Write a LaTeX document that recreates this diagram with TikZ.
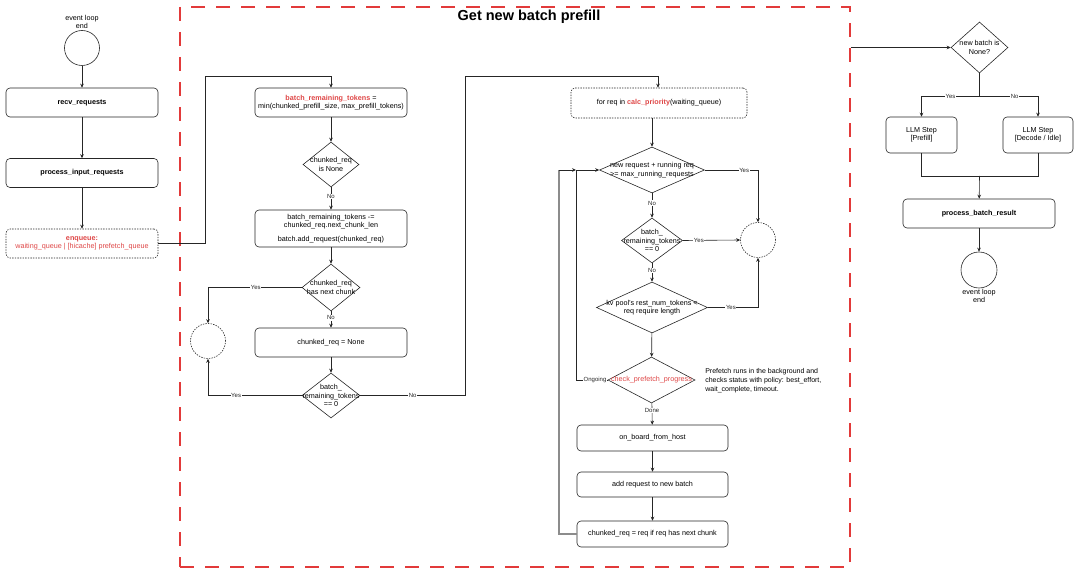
\documentclass[tikz,border=0pt]{standalone}
\usepackage{fontspec}
\setmainfont{Liberation Sans}
\usepackage{tikz}
\usetikzlibrary{arrows.meta, positioning, shapes.geometric}
\definecolor{hlred}{RGB}{222,70,70}
\definecolor{framered}{RGB}{226,58,58}
\newcommand{\fs}{\fontsize{7.2}{8.3}\selectfont}
\newcommand{\fss}{\fontsize{6}{7}\selectfont}
\tikzset{
	procbox/.style={draw, black!85, text=black, rounded corners=4pt, minimum height=29pt, minimum width=152pt, font=\fs, align=center, inner sep=1pt},
	dotbox/.style={procbox, dash pattern=on 1.4pt off 1.2pt},
	decide/.style 2 args={draw, black!85, diamond, inner sep=0pt, minimum width=#1, minimum height=#2},
	dtext/.style={font=\fs, align=center, inner sep=0pt},
	dotcirc/.style={draw, black!85, circle, minimum size=35pt, inner sep=0pt, dash pattern=on 1.4pt off 1.2pt},
	endcirc/.style={draw, black!85, circle, minimum size=35pt, inner sep=0pt},
	flowarr/.style={-{Stealth[length=4pt, width=3.6pt]}, black!85, line width=0.6pt},
	branch/.style={font=\fss, fill=white, inner sep=0.6pt, text=black!85},
}

\begin{document}
\begin{tikzpicture}[x=1pt, y=-1pt, line width=0.6pt]
	\useasboundingbox (0,0) rectangle (1080,575);
	% prefill frame
	\node[draw=framered, line width=1.3pt, dash pattern=on 14pt off 11pt, minimum width=670pt, minimum height=560pt, inner sep=0pt] (prefill) at (515,287) {};
	\node[font=\fontsize{14.5}{16}\selectfont\bfseries] (prefilltitle) at (529,17) {Get new batch prefill};

	% event loop entry
	\node[endcirc] (evstart) at (82,48) {};
	\node[dtext] (evstartlbl) at (82,22) {event loop\\end};
	\node[procbox] (recv) at (82,102.5) {\textbf{recv\_requests}};
	\node[procbox] (procin) at (82,173) {\textbf{process\_input\_requests}};
	\node[dotbox, text=hlred] (enq) at (82,243.5) {\textbf{enqueue:}\\waiting\_queue | [hicache] prefetch\_queue};
	\draw[flowarr] (evstart) -- (recv);
	\draw[flowarr] (recv) -- (procin);
	\draw[flowarr] (procin) -- (enq);

	% chunked request
	\node[procbox] (budget) at (331,102.5) {\textcolor{hlred}{\textbf{batch\_remaining\_tokens}} =\\min(chunked\_prefill\_size, max\_prefill\_tokens)};
	\node[decide={56pt}{45pt}] (isnone) at (331,164.5) {};
	\node[dtext] (isnonetxt) at (isnone) {chunked\_req\\is None};
	\node[procbox, minimum height=37pt] (consume) at (331,228.5) {batch\_remaining\_tokens -=\\chunked\_req.next\_chunk\_len\\[6pt]batch.add\_request(chunked\_req)};
	\node[decide={58pt}{47pt}] (hasnext) at (331,287.5) {};
	\node[dtext] (hasnexttxt) at (hasnext) {chunked\_req\\has next chunk};
	\node[dotcirc] (holdL) at (208,341) {};
	\node[procbox] (clearreq) at (331,342.5) {chunked\_req = None};
	\node[decide={58pt}{45pt}] (budgetzero) at (331,395.5) {};
	\node[dtext] (budgetzerotxt) at (budgetzero) {batch\_\\remaining\_tokens\\== 0};
	\coordinate (jumpA) at (205,76);
	\coordinate (jumpB) at (465,76);
	\draw[flowarr] (enq.east) -| (jumpA) -| (budget.north);
	\draw[flowarr] (budget) -- (isnone);
	\draw[flowarr] (isnone) -- node[branch, pos=0.4] {No} (consume);
	\draw[flowarr] (consume) -- (hasnext);
	\draw[flowarr] (hasnext.west) -| node[branch, pos=0.245] {Yes} (holdL.north);
	\draw[flowarr] (hasnext) -- node[branch, pos=0.4] {No} (clearreq);
	\draw[flowarr] (clearreq) -- (budgetzero);
	\draw[flowarr] (budgetzero.west) -| node[branch, pos=0.35] {Yes} (holdL.south);

	% waiting queue
	\node[dotbox, minimum width=176pt, minimum height=30pt] (forreq) at (659,103) {for req in \textcolor{hlred}{\textbf{calc\_priority}}(waiting\_queue)};
	\node[decide={105pt}{46pt}] (maxrun) at (652,170) {};
	\node[dtext] (maxruntxt) at (maxrun) {new request + running req\\>= max\_running\_requests};
	\node[decide={61pt}{45pt}] (budgetzero2) at (652,240.5) {};
	\node[dtext] (budgetzero2txt) at (budgetzero2) {batch\_\\remaining\_tokens\\== 0};
	\node[dotcirc] (holdR) at (758,240) {};
	\node[decide={111pt}{51pt}] (kvpool) at (652,307.5) {};
	\node[dtext] (kvpooltxt) at (kvpool) {kv pool's rest\_num\_tokens <\\req require length};
	\node[decide={87pt}{46pt}] (prefetch) at (651.5,380) {};
	\node[dtext, text=hlred] (prefetchtxt) at (prefetch) {check\_prefetch\_progress};
	\node[dtext, anchor=west, align=left, font=\fontsize{7}{9}\selectfont] (prefetchnote) at (705,381) {Prefetch runs in the background and\\checks status with policy: best\_effort,\\wait\_complete, timeout.};
	\node[procbox, minimum width=151pt, minimum height=26pt] (onboard) at (652.5,438) {on\_board\_from\_host};
	\node[procbox, minimum width=151pt, minimum height=25pt] (addreq) at (652.5,484.5) {add request to new batch};
	\node[procbox, minimum width=151pt, minimum height=26pt] (setchunk) at (652.5,534) {chunked\_req = req if req has next chunk};
	\coordinate (loopA) at (576,170);
	\coordinate (loopB) at (559,170);
	\draw[flowarr] (budgetzero.east) -| node[branch, pos=0.25] {No} (jumpB) -| ([xshift=-1pt]forreq.north);
	\draw[flowarr] (forreq.south -| maxrun.north) -- (maxrun.north);
	\draw[flowarr] (maxrun) -- node[branch, pos=0.4] {No} (budgetzero2);
	\draw[flowarr] (maxrun.east) -| node[branch, pos=0.37] {Yes} (holdR.north);
	\draw[flowarr] (budgetzero2.east) -- node[branch, pos=0.28] {Yes} (holdR.west);
	\draw[flowarr] (budgetzero2) -- node[branch, pos=0.4] {No} (kvpool);
	\draw[flowarr] (kvpool.east) -| node[branch, pos=0.23] {Yes} (holdR.south);
	\draw[flowarr] (kvpool) -- (prefetch);
	\draw[flowarr] (prefetch.west) -| node[branch, pos=0.2] {Ongoing} (loopA) -- (maxrun.west);
	\draw[flowarr] (prefetch) -- node[branch, pos=0.35] {Done} (onboard);
	\draw[flowarr] (onboard) -- (addreq);
	\draw[flowarr] (addreq) -- (setchunk);
	\draw[black!45, line width=1.1pt] (setchunk.west) -| (loopB);
	\draw[flowarr] (loopB) -- (loopA);

	% llm step
	\node[decide={57pt}{51pt}] (nbnone) at (979.5,47.5) {};
	\node[dtext] (nbnonetxt) at (nbnone) {new batch is\\None?};
	\node[procbox, minimum width=71pt, minimum height=36pt] (stepP) at (921.5,135) {LLM Step\\{[}Prefill{]}};
	\node[procbox, minimum width=70pt, minimum height=36pt] (stepD) at (1038,135) {LLM Step\\{[}Decode / Idle{]}};
	\node[procbox] (batchres) at (979,213.5) {\textbf{process\_batch\_result}};
	\node[endcirc, minimum size=36pt] (evend) at (979,270) {};
	\node[dtext] (evendlbl) at (979,296) {event loop\\end};
	\coordinate (split) at (979.5,96);
	\coordinate (merge) at (979.5,176);
	\draw[flowarr] (prefill.east |- nbnone) -- (nbnone.west);
	\draw[black!85] (nbnone.south) -- (split);
	\draw[flowarr] (split) -| node[branch, pos=0.25] {Yes} (stepP.north);
	\draw[flowarr] (split) -| node[branch, pos=0.3] {No} (stepD.north);
	\draw[black!85] (stepP.south) |- (stepD.south |- merge) -- (stepD.south);
	\draw[flowarr] (merge) -- (batchres);
	\draw[flowarr] (batchres) -- (evend);
\end{tikzpicture}
\end{document}
